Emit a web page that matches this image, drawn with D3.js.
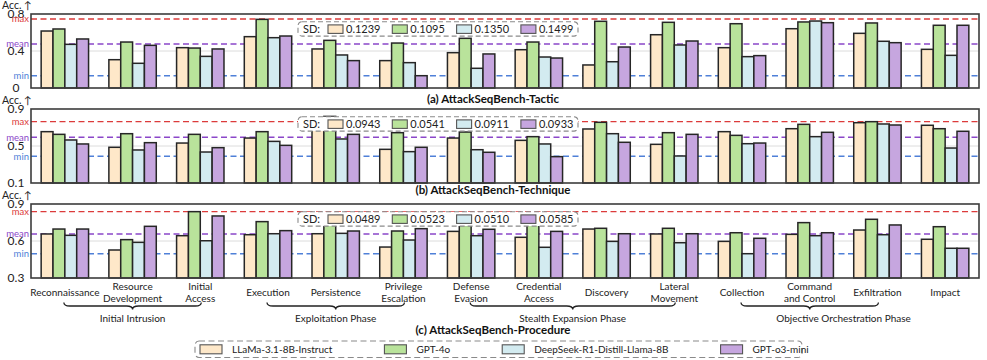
<!DOCTYPE html>
<html>
<head>
<meta charset="utf-8">
<script src="https://cdn.jsdelivr.net/npm/d3@7"></script>
<style>
  body { margin: 0; background: #fff; }
  svg { font-family: Lato, "Open Sans", sans-serif; }
</style>
</head>
<body>
<svg id="chart"></svg>
<script>
// categories (MITRE tactics) and the phases they belong to
const categories = [
  "Reconnaissance", "Resource\nDevelopment", "Initial\nAccess", "Execution", "Persistence",
  "Privilege\nEscalation", "Defense\nEvasion", "Credential\nAccess", "Discovery", "Lateral\nMovement",
  "Collection", "Command\nand Control", "Exfiltration", "Impact",
];
const phaseNames = ["Initial Intrusion", "Exploitation Phase", "Stealth Expansion Phase", "Objective Orchestration Phase"];
const phaseFirst = [0, 3, 6, 10];
const phaseLast = [2, 5, 9, 13];
const braceLast = [2, 5, 9, 12];

const models = ["LLaMa-3.1-8B-Instruct", "GPT-4o", "DeepSeek-R1-Distill-Llama-8B", "GPT-o3-mini"];

// (a) tactic
const tacticLlama = [0.616, 0.306, 0.436, 0.555, 0.422, 0.296, 0.382, 0.414, 0.249, 0.576, 0.436, 0.641, 0.591, 0.418];
const tacticGpt4o = [0.638, 0.497, 0.432, 0.742, 0.515, 0.486, 0.537, 0.497, 0.721, 0.71, 0.695, 0.714, 0.703, 0.678];
const tacticDeepseek = [0.472, 0.267, 0.342, 0.544, 0.357, 0.274, 0.213, 0.335, 0.284, 0.465, 0.339, 0.724, 0.505, 0.353];
const tacticO3mini = [0.53, 0.461, 0.422, 0.562, 0.296, 0.133, 0.368, 0.324, 0.443, 0.508, 0.35, 0.706, 0.49, 0.678];
// (b) technique
const techniqueLlama = [0.655, 0.486, 0.532, 0.586, 0.8, 0.464, 0.586, 0.561, 0.684, 0.518, 0.655, 0.687, 0.752, 0.724];
const techniqueGpt4o = [0.626, 0.633, 0.626, 0.655, 0.82, 0.644, 0.651, 0.601, 0.756, 0.644, 0.615, 0.734, 0.763, 0.687];
const techniqueDeepseek = [0.565, 0.457, 0.435, 0.55, 0.576, 0.439, 0.46, 0.522, 0.633, 0.392, 0.525, 0.601, 0.738, 0.478];
const techniqueO3mini = [0.522, 0.536, 0.482, 0.507, 0.626, 0.486, 0.432, 0.385, 0.54, 0.626, 0.532, 0.648, 0.727, 0.659];
// (c) procedure
const procedureLlama = [0.657, 0.527, 0.643, 0.651, 0.659, 0.551, 0.678, 0.63, 0.697, 0.657, 0.597, 0.654, 0.689, 0.614];
const procedureGpt4o = [0.697, 0.611, 0.838, 0.757, 0.743, 0.681, 0.727, 0.752, 0.703, 0.703, 0.667, 0.749, 0.776, 0.716];
const procedureDeepseek = [0.646, 0.589, 0.602, 0.659, 0.662, 0.608, 0.643, 0.549, 0.597, 0.586, 0.497, 0.643, 0.651, 0.541];
const procedureO3mini = [0.697, 0.719, 0.803, 0.684, 0.681, 0.7, 0.695, 0.678, 0.659, 0.659, 0.622, 0.667, 0.73, 0.541];

// reference lines and standard deviations as printed
const statMax = [0.746, 0.763, 0.838];
const statMean = [0.476, 0.594, 0.657];
const statMin = [0.133, 0.389, 0.497];
const sdTactic = ["0.1239", "0.1095", "0.1350", "0.1499"];
const sdTechnique = ["0.0943", "0.0541", "0.0911", "0.0933"];
const sdProcedure = ["0.0489", "0.0523", "0.0510", "0.0585"];

const yDomains = [[0, 0.8], [0.1, 0.9], [0.3, 0.9]];
const yTicks = [[0, 0.4, 0.8], [0.1, 0.5, 0.9], [0.3, 0.6, 0.9]];
const titles = ["(a) AttackSeqBench-Tactic", "(b) AttackSeqBench-Technique", "(c) AttackSeqBench-Procedure"];

const panels = [
  { series: [tacticLlama, tacticGpt4o, tacticDeepseek, tacticO3mini], sd: sdTactic },
  { series: [techniqueLlama, techniqueGpt4o, techniqueDeepseek, techniqueO3mini], sd: sdTechnique },
  { series: [procedureLlama, procedureGpt4o, procedureDeepseek, procedureO3mini], sd: sdProcedure },
];

const W = 987;
const H = 360;
const fills = ["#fee8c9", "#b9e39b", "#d3ebf0", "#c6a6df"];
const statColors = { max: "#dc3b3b", mean: "#8b47c9", min: "#4f80d8" };

const svg = d3.select("#chart").attr("width", W).attr("height", H);

const x = d3.scaleBand().domain(d3.range(categories.length)).range([31, 979]).paddingInner(0.3).paddingOuter(0.15);
const xm = d3.scaleBand().domain(d3.range(models.length)).range([0, x.bandwidth()]);
const color = d3.scaleOrdinal().domain(d3.range(models.length)).range(fills);

const panelTop = [14, 109, 204];
const panelH = 74;

const renderPanel = (p, i) => {
  const top = panelTop[i];
  const y = d3.scaleLinear().domain(yDomains[i]).range([top + panelH, top]);
  const g = svg.append("g");

  // middle grid line
  g.append("line")
    .attr("x1", 31).attr("x2", 979)
    .attr("y1", y(yTicks[i][1])).attr("y2", y(yTicks[i][1]))
    .attr("stroke", "#dcdcdc").attr("stroke-width", 1);

  // y tick labels
  g.selectAll(".tick")
    .data(yTicks[i])
    .join("text")
    .attr("x", 16)
    .attr("y", (d) => y(d))
    .attr("dy", "0.35em")
    .attr("text-anchor", "middle")
    .attr("font-size", 12)
    .attr("fill", "#222")
    .text((d) => (d === 0 ? "0" : d3.format(".1f")(d)));

  g.append("text")
    .attr("x", 2).attr("y", top - 9).attr("dy", "0.35em")
    .attr("font-size", 10.5).attr("fill", "#222")
    .text("Acc. ↑");

  // reference lines
  const stats = [["max", statMax[i]], ["mean", statMean[i]], ["min", statMin[i]]];
  stats.forEach(([name, v]) => {
    g.append("line")
      .attr("x1", 31).attr("x2", 979)
      .attr("y1", y(v)).attr("y2", y(v))
      .attr("stroke", statColors[name])
      .attr("stroke-width", 1.4)
      .attr("stroke-dasharray", "6,3.5");
    g.append("text")
      .attr("x", 29).attr("y", y(v)).attr("dy", "0.35em")
      .attr("text-anchor", "end")
      .attr("font-size", 9.5)
      .attr("fill", statColors[name])
      .text(name);
  });

  // bars
  p.series.forEach((vals, m) => {
    g.append("g")
      .selectAll("rect")
      .data(vals)
      .join("rect")
      .attr("x", (d, k) => x(k) + xm(m))
      .attr("y", (d) => y(d))
      .attr("width", xm.bandwidth())
      .attr("height", (d) => y(yDomains[i][0]) - y(d))
      .attr("fill", color(m))
      .attr("stroke", "#262626")
      .attr("stroke-width", 1.5);
  });

  // frame
  g.append("rect")
    .attr("x", 31).attr("y", top)
    .attr("width", 948).attr("height", panelH)
    .attr("fill", "none")
    .attr("stroke", "#3c3c3c")
    .attr("stroke-width", 1.6);

  // SD legend box
  const lg = g.append("g").attr("transform", `translate(298,${top + 7.7})`);
  lg.append("rect")
    .attr("width", 280).attr("height", 14.4).attr("rx", 4)
    .attr("fill", "#fff")
    .attr("stroke", "#8a8a8a").attr("stroke-width", 1.1)
    .attr("stroke-dasharray", "5,3");
  lg.append("text")
    .attr("x", 5).attr("y", 7.2).attr("dy", "0.35em")
    .attr("font-size", 11).attr("fill", "#222")
    .text("SD:");
  p.sd.forEach((s, m) => {
    lg.append("rect")
      .attr("x", 30 + m * 64.3).attr("y", 3.2)
      .attr("width", 15).attr("height", 8.5)
      .attr("fill", color(m))
      .attr("stroke", "#555").attr("stroke-width", 1.1);
    lg.append("text")
      .attr("x", 48 + m * 64.3).attr("y", 7.2).attr("dy", "0.35em")
      .attr("font-size", 11).attr("fill", "#222")
      .text(s);
  });

  svg.append("text")
    .attr("x", 493).attr("y", [99, 190, 330][i]).attr("dy", "0.35em")
    .attr("text-anchor", "middle")
    .attr("font-size", 11.5).attr("font-weight", "bold").attr("fill", "#111")
    .text(titles[i]);
};

panels.forEach(renderPanel);

// category labels
const cx = (k) => x(k) + x.bandwidth() / 2;
categories.forEach((c, k) => {
  const lines = c.split("\n");
  const t = svg.append("text")
    .attr("x", cx(k))
    .attr("text-anchor", "middle")
    .attr("font-size", 10).attr("fill", "#222");
  lines.forEach((l, j) => {
    t.append("tspan")
      .attr("x", cx(k))
      .attr("y", (lines.length === 1 ? 292.7 : 286 + j * 12.3))
      .attr("dy", "0.35em")
      .text(l);
  });
});

// phase braces
const brace = (x1, x2, y0, h) => {
  const mid = (x1 + x2) / 2;
  const q = h / 2;
  return `M${x1},${y0} Q${x1},${y0 + q} ${x1 + 6},${y0 + q} L${mid - 6},${y0 + q} Q${mid},${y0 + q} ${mid},${y0 + h}` +
    ` Q${mid},${y0 + q} ${mid + 6},${y0 + q} L${x2 - 6},${y0 + q} Q${x2},${y0 + q} ${x2},${y0}`;
};
phaseNames.forEach((name, i) => {
  svg.append("path")
    .attr("d", brace(cx(phaseFirst[i]) - 1, cx(braceLast[i]) + 1, 302.5, 7))
    .attr("fill", "none")
    .attr("stroke", "#222")
    .attr("stroke-width", 1.3);
  svg.append("text")
    .attr("x", (cx(phaseFirst[i]) + cx(phaseLast[i])) / 2)
    .attr("y", 318.5).attr("dy", "0.35em")
    .attr("text-anchor", "middle")
    .attr("font-size", 10).attr("fill", "#222")
    .text(name);
});

// model legend
const leg = svg.append("g").attr("transform", "translate(195,341)");
leg.append("rect")
  .attr("width", 607).attr("height", 16.5).attr("rx", 4)
  .attr("fill", "#fff")
  .attr("stroke", "#8a8a8a").attr("stroke-width", 1.1)
  .attr("stroke-dasharray", "6,3.5");
let lx = 5;
models.forEach((name, m) => {
  leg.append("rect")
    .attr("x", lx).attr("y", 3.8)
    .attr("width", 22).attr("height", 9)
    .attr("fill", color(m))
    .attr("stroke", "#555").attr("stroke-width", 1.1);
  const t = leg.append("text")
    .attr("x", lx + 32).attr("y", 8.3).attr("dy", "0.35em")
    .attr("font-size", 10).attr("fill", "#222")
    .text(name);
  lx += 32 + t.node().getComputedTextLength() + 52;
});
</script>
</body>
</html>
